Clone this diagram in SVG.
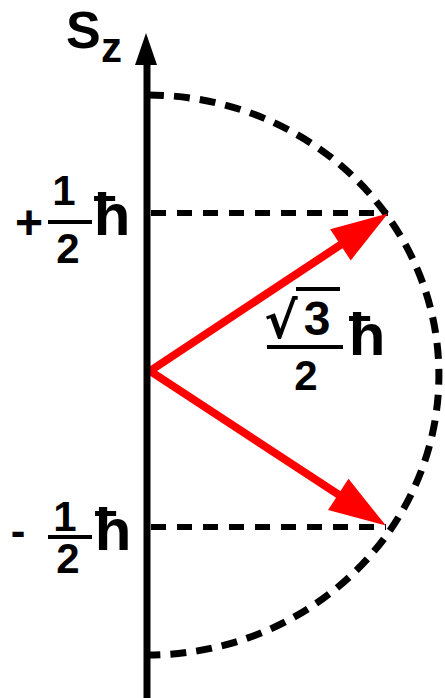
<svg xmlns="http://www.w3.org/2000/svg" width="445" height="698" viewBox="0 0 445 698">
<defs>
<style>
.t{font-family:"Liberation Sans",Arial,sans-serif;font-weight:bold;fill:#000;}
.dash{fill:none;stroke:#000;stroke-width:6;stroke-dasharray:15 11;}
.arc{fill:none;stroke:#000;stroke-width:7;stroke-dasharray:16 10;}
.bar{stroke:#000;stroke-width:4;}
.vec{stroke:#ff0000;stroke-width:8;fill:none;}
</style>
<marker id="rh" markerUnits="userSpaceOnUse" markerWidth="60" markerHeight="40" viewBox="-26 -19 58 38" refX="0" refY="0" orient="auto">
<path d="M-25,-18 L30,0 L-25,18 z" fill="#ff0000"/>
</marker>
</defs>
<rect width="445" height="698" fill="#fff"/>
<g id="connectors">
<path class="arc" d="M148,95 A291,280 0 0 1 148,655"/>
<line class="dash" x1="151" y1="213" x2="388" y2="213"/>
<line class="dash" x1="151" y1="527" x2="386" y2="527"/>
<line class="vec" x1="150" y1="371" x2="362" y2="230.6" marker-end="url(#rh)"/>
<line class="vec" x1="150" y1="371" x2="359.9" y2="508.6" marker-end="url(#rh)"/>
</g>
<g id="axis">
<line x1="147" y1="60" x2="147" y2="698" stroke="#000" stroke-width="7"/>
<polygon points="146,33 157,65 135,65" fill="#000"/>
</g>
<g id="label-sz">
<text class="t" x="66" y="48" font-size="52">S</text>
<text class="t" x="101" y="62" font-size="42">z</text>
</g>
<g id="label-plus-half">
<text class="t" x="29" y="239" font-size="48" text-anchor="middle">+</text>
<text class="t" x="64" y="205" font-size="42" text-anchor="middle">1</text>
<line class="bar" x1="48" y1="222" x2="92" y2="222"/>
<text class="t" x="68" y="263" font-size="42" text-anchor="middle">2</text>
<text class="t" x="112" y="235" font-size="60" text-anchor="middle">ħ</text>
</g>
<g id="label-minus-half">
<text class="t" x="18" y="546" font-size="44" text-anchor="middle">-</text>
<text class="t" x="65" y="531" font-size="42" text-anchor="middle">1</text>
<line class="bar" x1="48" y1="537" x2="92" y2="537"/>
<text class="t" x="68" y="573" font-size="42" text-anchor="middle">2</text>
<text class="t" x="113" y="550" font-size="60" text-anchor="middle">ħ</text>
</g>
<g id="label-magnitude">
<text class="t" x="281" y="338" font-size="50" text-anchor="middle" style="font-family:'DejaVu Sans',sans-serif">√</text>
<line class="bar" x1="296" y1="289" x2="340" y2="289"/>
<text class="t" x="317" y="335" font-size="48" text-anchor="middle">3</text>
<line class="bar" x1="267" y1="347" x2="343" y2="347"/>
<text class="t" x="306" y="390" font-size="42" text-anchor="middle">2</text>
<text class="t" x="367" y="355" font-size="60" text-anchor="middle">ħ</text>
</g>
</svg>
